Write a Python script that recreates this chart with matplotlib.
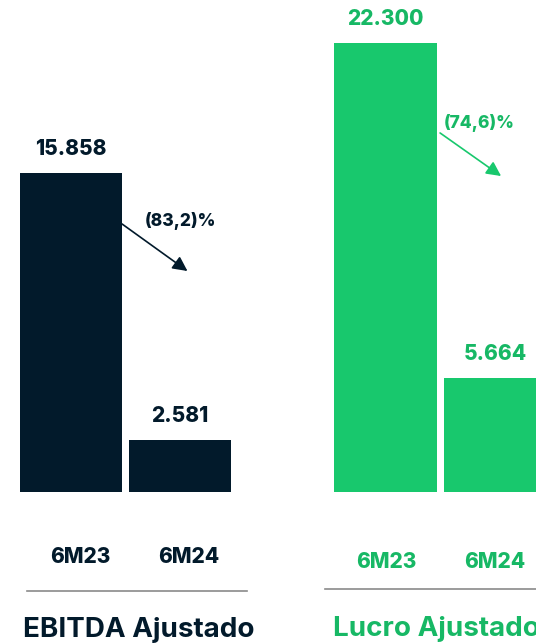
import matplotlib.pyplot as plt

periods = ['6M23', '6M24']
ebitda = [15.858, 2.581]
lucro = [22.300, 5.664]
ebitda_labels = ['15.858', '2.581']
lucro_labels = ['22.300', '5.664']
ebitda_var = '(83,2)%'
lucro_var = '(74,6)%'

navy = '#021a2b'
green = '#18c86d'
green_txt = '#17b865'

plt.rcParams['font.family'] = ['Inter', 'DejaVu Sans']
plt.rcParams['font.weight'] = 'bold'

W, H = 536, 643
fig = plt.figure(figsize=(W / 100, H / 100), dpi=100)


def fy(px):
    return 1 - px / H


def fx(px):
    return px / W


# one axes for both groups, shared value scale
ax = fig.add_axes([0, fy(492), 1, (492 - 9) / H])
ax.set_ylim(0, 24)
unit = 109.5
x0 = 70.75
ax.set_xlim(-x0 / unit, (W - x0) / unit)
ax.axis('off')

left_pos = [0, 1]
right_pos = [2.874, 3.874]
bw = 0.936

ax.bar(left_pos, ebitda, width=bw, color=navy)
ax.bar(right_pos, lucro, width=bw, color=green)

for p, v, t in zip(left_pos, ebitda, ebitda_labels):
    ax.annotate(t, (p, v), xytext=(0, 10), textcoords='offset points',
                ha='center', va='bottom', fontsize=15, fontweight='heavy', color=navy)
for p, v, t in zip(right_pos, lucro, lucro_labels):
    ax.annotate(t, (p, v), xytext=(0, 10), textcoords='offset points',
                ha='center', va='bottom', fontsize=15, fontweight='heavy', color=green_txt)

# variation arrows
ax.annotate('', xy=(1.066, 10.98), xytext=(0.468, 13.32),
            arrowprops=dict(arrowstyle='-|>', color=navy, lw=1.2, mutation_scale=22,
                            shrinkA=0, shrinkB=0))
ax.text((180 - x0) / unit, (492 - 221) / 20.12, ebitda_var, ha='center', va='center',
        fontsize=12.5, fontweight='heavy', color=navy)
ax.annotate('', xy=(3.93, 15.7), xytext=(3.373, 17.84),
            arrowprops=dict(arrowstyle='-|>', color=green, lw=1.2, mutation_scale=22,
                            shrinkA=0, shrinkB=0))
ax.text((479 - x0) / unit, (492 - 123) / 20.12, lucro_var, ha='center', va='center',
        fontsize=12.5, fontweight='heavy', color=green_txt)

# period labels
for cx, t in zip([80, 189], periods):
    fig.text(fx(cx), fy(557), t, ha='center', va='center', fontsize=15,
             fontweight='heavy', color=navy)
for cx, t in zip([386, 495], periods):
    fig.text(fx(cx), fy(562), t, ha='center', va='center', fontsize=15,
             fontweight='heavy', color=green_txt)

# separators
fig.add_artist(plt.Line2D([fx(27), fx(247)], [fy(591), fy(591)], color='#8a8a8a', lw=1.2))
fig.add_artist(plt.Line2D([fx(325), fx(540)], [fy(589), fy(589)], color='#8a8a8a', lw=1.2))

# group titles
fig.text(fx(139), fy(630), 'EBITDA Ajustado', ha='center', va='center', fontsize=20,
         fontweight='bold', color=navy)
fig.text(fx(333), fy(629), 'Lucro Ajustado', ha='left', va='center', fontsize=20,
         fontweight='bold', color=green_txt)

fig.savefig('out.png', dpi=100)
